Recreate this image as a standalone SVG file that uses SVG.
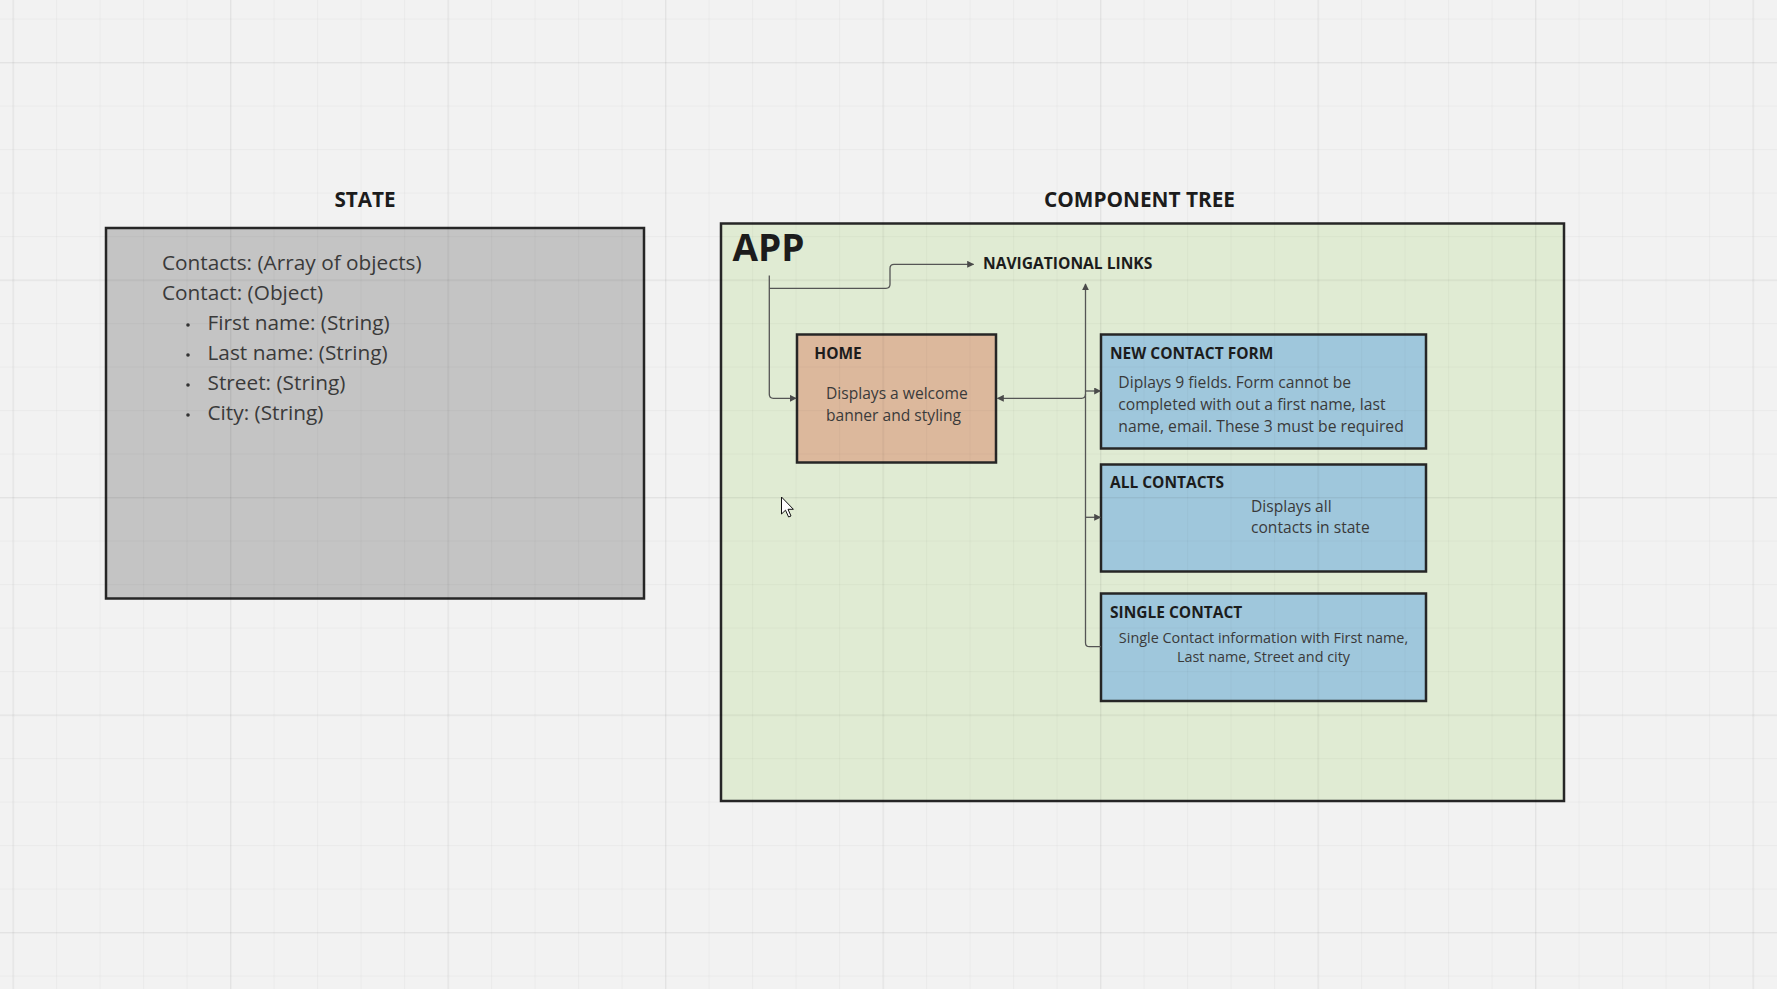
<svg xmlns="http://www.w3.org/2000/svg" width="1777" height="989" viewBox="0 0 1777 989">
<defs>
<pattern id="gMinor" patternUnits="userSpaceOnUse" x="12.5" y="18.5" width="43.5" height="43.5">
<rect x="0" y="0" width="1" height="43.5" fill="#000" fill-opacity="0.028"/>
<rect x="0" y="0" width="43.5" height="1" fill="#000" fill-opacity="0.028"/>
</pattern>
<pattern id="gMajor" patternUnits="userSpaceOnUse" x="12.5" y="62" width="217.5" height="217.5">
<rect x="0" y="0" width="1.5" height="217.5" fill="#000" fill-opacity="0.035"/>
<rect x="0" y="0" width="217.5" height="1.5" fill="#000" fill-opacity="0.035"/>
</pattern>
<marker id="arr" viewBox="0 0 10 10" refX="9" refY="5" markerWidth="7" markerHeight="7" markerUnits="userSpaceOnUse" orient="auto">
<path d="M0,0 L10,5 L0,10 z" fill="#4a4a4a"/>
</marker>
</defs>
<style>
.title{font-family:"Open Sans","Liberation Sans",sans-serif;font-weight:700;fill:#1c1c1c}
.body{font-family:"Open Sans","Liberation Sans",sans-serif;fill:#3a3a3a}
.box{stroke:#262626;stroke-width:2.5}
.conn{fill:none;stroke:#555;stroke-width:1.3}
</style>
<rect x="0" y="0" width="1777" height="989" fill="#f2f2f2"/>

<g id="state">
<rect class="box" x="106" y="228" width="538" height="370.5" fill="#c4c4c4"/>
</g>
<g id="app">
<rect class="box" x="721" y="223.5" width="843" height="577.5" fill="#e0ebd3"/>
</g>
<g id="home">
<rect class="box" x="797" y="334.5" width="199" height="128" fill="#dcb89c"/>
</g>
<g id="new-contact-form">
<rect class="box" x="1101" y="334.5" width="325" height="114" fill="#9fc7dc"/>
</g>
<g id="all-contacts">
<rect class="box" x="1101" y="464.5" width="325" height="107" fill="#9fc7dc"/>
</g>
<g id="single-contact">
<rect class="box" x="1101" y="593.5" width="325" height="107.5" fill="#9fc7dc"/>
</g>

<rect x="0" y="0" width="1777" height="989" fill="url(#gMinor)"/>
<rect x="0" y="0" width="1777" height="989" fill="url(#gMajor)"/>

<g id="connectors">
<path class="conn" d="M769.3,275.5 V394.3 Q769.3,398.3 773.3,398.3 H796" marker-end="url(#arr)"/>
<path class="conn" d="M769.3,288.3 H886 Q890,288.3 890,284.3 V268.3 Q890,264.3 894,264.3 H973.5" marker-end="url(#arr)"/>
<path class="conn" d="M1101,646.7 H1089.5 Q1085.5,646.7 1085.5,642.7 V284" marker-end="url(#arr)"/>
<path class="conn" d="M1085.5,394.3 Q1085.5,398.3 1081.5,398.3 H997.5" marker-end="url(#arr)"/>
<path class="conn" d="M1085.5,391 H1100.5" marker-end="url(#arr)"/>
<path class="conn" d="M1085.5,517.3 H1100.5" marker-end="url(#arr)"/>
</g>

<g id="state-text">
<text class="title" x="365" y="207" font-size="20.7" text-anchor="middle">STATE</text>
<text class="body" font-size="20.8" x="162" y="270">Contacts: (Array of objects)</text>
<text class="body" font-size="20.8" x="162" y="300">Contact: (Object)</text>
<circle cx="188" cy="325" r="1.8" fill="#333"/>
<text class="body" font-size="20.8" x="207.5" y="330">First name: (String)</text>
<circle cx="188" cy="355" r="1.8" fill="#333"/>
<text class="body" font-size="20.8" x="207.5" y="360">Last name: (String)</text>
<circle cx="188" cy="385" r="1.8" fill="#333"/>
<text class="body" font-size="20.8" x="207.5" y="390">Street: (String)</text>
<circle cx="188" cy="415" r="1.8" fill="#333"/>
<text class="body" font-size="20.8" x="207.5" y="420">City: (String)</text>
</g>

<g id="app-text">
<text class="title" x="1139.5" y="207" font-size="20.8" text-anchor="middle">COMPONENT TREE</text>
<text class="title" x="732.5" y="260.5" font-size="37">APP</text>
</g>
<g id="nav-links">
<text class="title" x="983" y="269.3" font-size="15.6">NAVIGATIONAL LINKS</text>
</g>
<g id="home-text">
<text class="title" x="814.3" y="359" font-size="15.5">HOME</text>
<text class="body" font-size="15.6" x="826" y="399">Displays a welcome</text>
<text class="body" font-size="15.6" x="826" y="420.7">banner and styling</text>
</g>
<g id="ncf-text">
<text class="title" x="1110" y="359.3" font-size="15.5">NEW CONTACT FORM</text>
<text class="body" font-size="15.7" x="1118.3" y="388.3">Diplays 9 fields. Form cannot be</text>
<text class="body" font-size="15.7" x="1118.3" y="410">completed with out a first name, last</text>
<text class="body" font-size="15.7" x="1118.3" y="431.7">name, email. These 3 must be required</text>
</g>
<g id="all-text">
<text class="title" x="1110" y="487.7" font-size="15.5">ALL CONTACTS</text>
<text class="body" font-size="15.6" x="1251" y="511.7">Displays all</text>
<text class="body" font-size="15.6" x="1251" y="533.3">contacts in state</text>
</g>
<g id="single-text">
<text class="title" x="1110" y="617.7" font-size="15.5">SINGLE CONTACT</text>
<text class="body" font-size="14.4" x="1263.5" y="642.7" text-anchor="middle">Single Contact information with First name,</text>
<text class="body" font-size="14.4" x="1263.5" y="661.7" text-anchor="middle">Last name, Street and city</text>
</g>

<path d="M781.5,497 V514 L785.5,510.2 L788.6,517 L791,516 L788,509.3 H793.4 Z" fill="#fff" stroke="#111" stroke-width="1"/>
</svg>
